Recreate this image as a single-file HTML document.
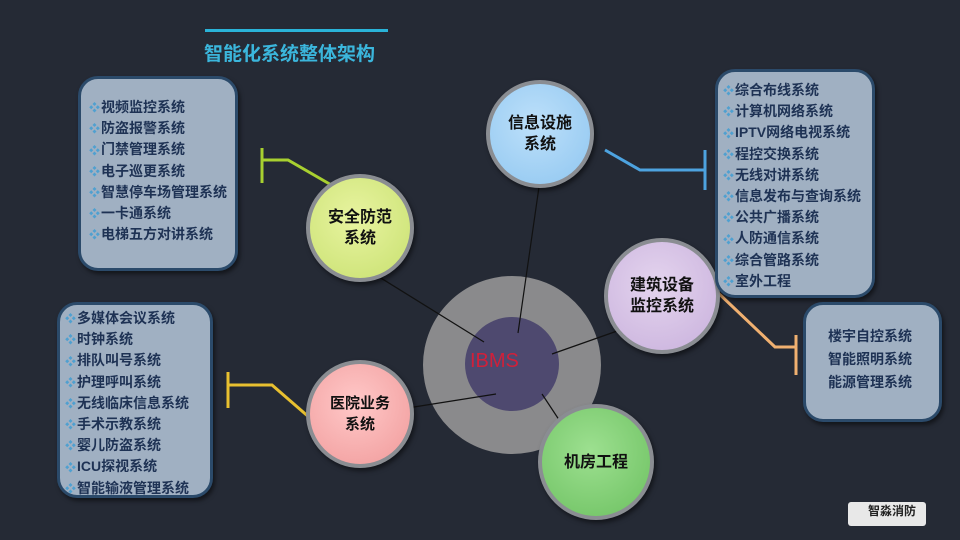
<!DOCTYPE html>
<html><head><meta charset="utf-8"><style>
body{margin:0;width:960px;height:540px;overflow:hidden;background:#252a35;font-family:"Liberation Sans","Noto Sans CJK SC",sans-serif;position:relative}
.box{position:absolute;background:#a0b0c2;border:3px solid #2b4a6a;border-radius:20px;box-shadow:2px 3px 4px rgba(0,0,0,.5);box-sizing:border-box}
.box div{font-size:14px;font-weight:bold;color:#1e3254;height:21.2px;line-height:21px;white-space:nowrap;overflow:visible}
.box div b{color:#4fa0d0;font-size:11px;margin-right:1px;display:inline-block;line-height:10px;vertical-align:middle}
.c{position:absolute;border-radius:50%;border:4px solid #8a8d92;box-sizing:border-box;display:flex;align-items:center;justify-content:center;text-align:center;font-weight:bold;font-size:16px;color:#111;line-height:21px;box-shadow:2px 3px 5px rgba(0,0,0,.5)}
</style></head><body>
<div style="position:absolute;left:205px;top:29px;width:183px;height:3px;background:#2ab3d8"></div>
<div style="position:absolute;left:204px;top:39px;font-size:19px;font-weight:bold;color:#3bb6dc">智能化系统整体架构</div>

<svg width="960" height="540" style="position:absolute;left:0;top:0">
<circle cx="512" cy="365" r="89" fill="#8a8a8c"/>
<circle cx="512" cy="364" r="47" fill="#4e496f"/>
<g stroke="#111" stroke-width="1.2">
<line x1="355" y1="262" x2="484" y2="342"/>
<line x1="540" y1="180" x2="518" y2="333"/>
<line x1="620" y1="330" x2="552" y2="354"/>
<line x1="395" y1="410" x2="496" y2="394"/>
<line x1="542" y1="394" x2="575" y2="444"/>
</g>
<g fill="none" stroke-width="3">
<polyline points="340,190 288,160 262,160" stroke="#a8d030"/><line x1="262" y1="148" x2="262" y2="183" stroke="#a8d030"/>
<polyline points="605,150 640,170 705,170" stroke="#4da3e0"/><line x1="705" y1="150" x2="705" y2="190" stroke="#4da3e0"/>
<polyline points="713,288 775,347 796,347" stroke="#f0b070"/><line x1="796" y1="335" x2="796" y2="375" stroke="#f0b070"/>
<polyline points="310,418 272,385 228,385" stroke="#e8c030"/><line x1="228" y1="372" x2="228" y2="408" stroke="#e8c030"/>
</g>
</svg>
<div style="position:absolute;left:470px;top:350px;font-size:20px;color:#d0203a">IBMS</div>

<div class="c" style="left:306px;top:174px;width:108px;height:108px;background:radial-gradient(circle at 45% 40%,#e8f4a0,#c8e070)">安全防范<br>系统</div>
<div class="c" style="left:486px;top:80px;width:108px;height:108px;background:radial-gradient(circle at 45% 40%,#bde0fa,#8fc6f0)">信息设施<br>系统</div>
<div class="c" style="left:604px;top:238px;width:116px;height:116px;background:radial-gradient(circle at 45% 40%,#e4d4ee,#c8b0dc)">建筑设备<br>监控系统</div>
<div class="c" style="left:306px;top:360px;width:108px;height:108px;background:radial-gradient(circle at 45% 40%,#ffc8c8,#f09a9a);font-size:15px">医院业务<br>系统</div>
<div class="c" style="left:538px;top:404px;width:116px;height:116px;background:radial-gradient(circle at 45% 40%,#9de090,#6cc060)">机房工程</div>

<div class="box" style="left:78px;top:76px;width:160px;height:195px;padding:18px 0 0 8px">
<div><b>❖</b>视频监控系统</div><div><b>❖</b>防盗报警系统</div><div><b>❖</b>门禁管理系统</div><div><b>❖</b>电子巡更系统</div><div><b>❖</b>智慧停车场管理系统</div><div><b>❖</b>一卡通系统</div><div><b>❖</b>电梯五方对讲系统</div>
</div>
<div class="box" style="left:715px;top:69px;width:160px;height:229px;padding:8px 0 0 5px">
<div><b>❖</b>综合布线系统</div><div><b>❖</b>计算机网络系统</div><div><b>❖</b>IPTV网络电视系统</div><div><b>❖</b>程控交换系统</div><div><b>❖</b>无线对讲系统</div><div><b>❖</b>信息发布与查询系统</div><div><b>❖</b>公共广播系统</div><div><b>❖</b>人防通信系统</div><div><b>❖</b>综合管路系统</div><div><b>❖</b>室外工程</div>
</div>
<div class="box" style="left:803px;top:302px;width:139px;height:120px;padding:20px 0 0 22px">
<div style="height:23px;line-height:23px">楼宇自控系统</div><div style="height:23px;line-height:23px">智能照明系统</div><div style="height:23px;line-height:23px">能源管理系统</div>
</div>
<div class="box" style="left:57px;top:302px;width:156px;height:196px;padding:3px 0 0 5px">
<div><b>❖</b>多媒体会议系统</div><div><b>❖</b>时钟系统</div><div><b>❖</b>排队叫号系统</div><div><b>❖</b>护理呼叫系统</div><div><b>❖</b>无线临床信息系统</div><div><b>❖</b>手术示教系统</div><div><b>❖</b>婴儿防盗系统</div><div><b>❖</b>ICU探视系统</div><div><b>❖</b>智能输液管理系统</div>
</div>

<div style="position:absolute;left:848px;top:502px;width:78px;height:24px;background:#e8e8e8;border-radius:3px;font-size:12px;font-weight:bold;color:#222;padding-left:20px;box-sizing:border-box;line-height:18px">智淼消防</div>
</body></html>
